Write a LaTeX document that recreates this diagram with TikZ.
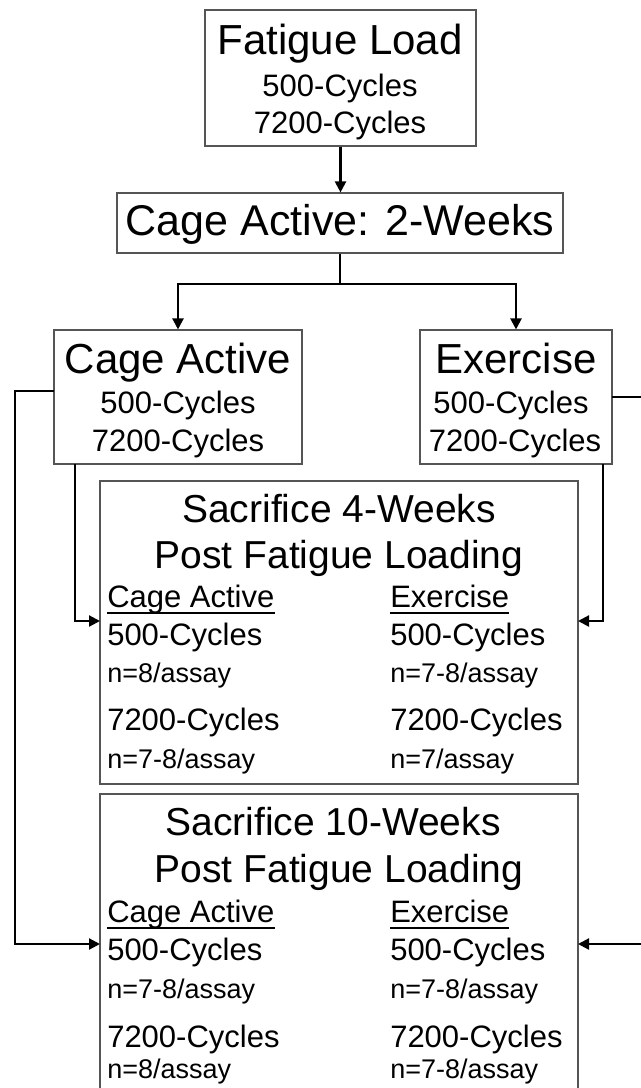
\documentclass[tikz,border=0pt]{standalone}
\usepackage{fontspec}
\setmainfont{Liberation Sans}
\usetikzlibrary{arrows.meta,fit}
\definecolor{boxgray}{RGB}{85,85,85}
\newcommand{\fsz}[1]{\fontsize{#1}{#1}\selectfont}
\begin{document}
\begin{tikzpicture}[x=0.75pt,y=-0.75pt,
  box/.style={draw=boxgray,line width=0.85pt,inner sep=0pt},
  lbl/.style={inner sep=0pt,text=black},
  big/.style={lbl,font=\fsz{31.5pt}},
  mid/.style={lbl,font=\fsz{23.25pt}},
  small/.style={lbl,font=\fsz{20.25pt}},
  sac/.style={lbl,font=\fsz{29.25pt}},
  conn/.style={line width=1.65pt,draw=black},
  arr/.style={conn,-{Triangle[length=8.25pt,width=8.25pt]}},
  uline/.style={line width=1.1pt,draw=black}]

\useasboundingbox (0,0) rectangle (640,1088);
\fill[white] (0,0) rectangle (640,1088);

% Fatigue Load
\node[box,fit={(205,10)(476,146)}] (fl) {};
\node[big,anchor=base] (flt) at (340,55) {Fatigue Load};
\node[mid,anchor=base] (fl1) at (340,97) {500-Cycles};
\node[mid,anchor=base] (fl2) at (340,133) {7200-Cycles};

% Cage Active: 2-Weeks
\node[box,fit={(117,193)(563,253)}] (cw) {};
\node[lbl,font=\fsz{32.25pt},anchor=base] (cwt) at (340,235) {Cage Active: 2-Weeks};

% Cage Active
\node[box,fit={(54,330)(302,464)}] (ca) {};
\node[big,anchor=base] (cat) at (178,373) {Cage Active};
\node[mid,anchor=base] (ca1) at (178,413) {500-Cycles};
\node[mid,anchor=base] (ca2) at (178,451) {7200-Cycles};

% Exercise
\node[box,fit={(420,330)(612,464)}] (ex) {};
\node[big,anchor=base] (ext) at (516,373) {Exercise};
\node[mid,anchor=base] (ex1) at (511,413) {500-Cycles};
\node[mid,anchor=base] (ex2) at (515,451) {7200-Cycles};

% Sacrifice 4 weeks
\node[box,fit={(100,481)(578,784)}] (s4) {};
\node[sac,anchor=base] (s4t) at (339,522) {Sacrifice 4-Weeks};
\node[sac,anchor=base] (s4p) at (339,568) {Post Fatigue Loading};
\node[mid,anchor=base west] (s4ca) at (107,607) {Cage Active};
\node[mid,anchor=base west] (s4ex) at (390,607) {Exercise};
\node[mid,anchor=base west] (s4a1) at (107,645) {500-Cycles};
\node[small,anchor=base west] (s4a2) at (107,682) {n=8/assay};
\node[mid,anchor=base west] (s4a3) at (107,730) {7200-Cycles};
\node[small,anchor=base west] (s4a4) at (107,768) {n=7-8/assay};
\node[mid,anchor=base west] (s4b1) at (390,645) {500-Cycles};
\node[small,anchor=base west] (s4b2) at (390,682) {n=7-8/assay};
\node[mid,anchor=base west] (s4b3) at (390,730) {7200-Cycles};
\node[small,anchor=base west] (s4b4) at (390,768) {n=7/assay};
\draw[uline] ([yshift=-4.5pt]s4ca.base west) -- ([yshift=-4.5pt]s4ca.base east);
\draw[uline] ([yshift=-4.5pt]s4ex.base west) -- ([yshift=-4.5pt]s4ex.base east);

% Sacrifice 10 weeks
\node[box,fit={(100,794)(578,1100)}] (s10) {};
\node[sac,anchor=base] (s10t) at (333,835) {Sacrifice 10-Weeks};
\node[sac,anchor=base] (s10p) at (339,882) {Post Fatigue Loading};
\node[mid,anchor=base west] (s10ca) at (107,922) {Cage Active};
\node[mid,anchor=base west] (s10ex) at (390,922) {Exercise};
\node[mid,anchor=base west] (s10a1) at (107,960) {500-Cycles};
\node[small,anchor=base west] (s10a2) at (107,998) {n=7-8/assay};
\node[mid,anchor=base west] (s10a3) at (107,1047) {7200-Cycles};
\node[small,anchor=base west] (s10a4) at (107,1078) {n=8/assay};
\node[mid,anchor=base west] (s10b1) at (390,960) {500-Cycles};
\node[small,anchor=base west] (s10b2) at (390,998) {n=7-8/assay};
\node[mid,anchor=base west] (s10b3) at (390,1047) {7200-Cycles};
\node[small,anchor=base west] (s10b4) at (390,1078) {n=7-8/assay};
\draw[uline] ([yshift=-4.5pt]s10ca.base west) -- ([yshift=-4.5pt]s10ca.base east);
\draw[uline] ([yshift=-4.5pt]s10ex.base west) -- ([yshift=-4.5pt]s10ex.base east);

% connectors
\draw[arr] (fl.south) -- (fl.south |- cw.north);
\coordinate (br) at (340,284);
\draw[conn] (cw.south) -- (br);
\draw[arr] (br) -| (ca.north);
\draw[arr] (br) -| (ex.north);

\coordinate (caw) at (54,391);
\coordinate (lx1) at (15,391);
\coordinate (lx2) at (15,944);
\coordinate (s10w) at (100,944);
\draw[arr] (caw) -- (lx1) -- (lx2) -- (s10w);

\coordinate (cab) at (75,464);
\coordinate (s4w) at (100,621);
\draw[arr] (cab) |- (s4w);

\coordinate (exb) at (603,464);
\coordinate (s4e) at (578,621);
\draw[arr] (exb) |- (s4e);

\coordinate (exe) at (612,397);
\coordinate (rx) at (652,397);
\coordinate (s10e) at (578,944);
\draw[arr] (exe) -- (rx) |- (s10e);
\end{tikzpicture}
\end{document}
